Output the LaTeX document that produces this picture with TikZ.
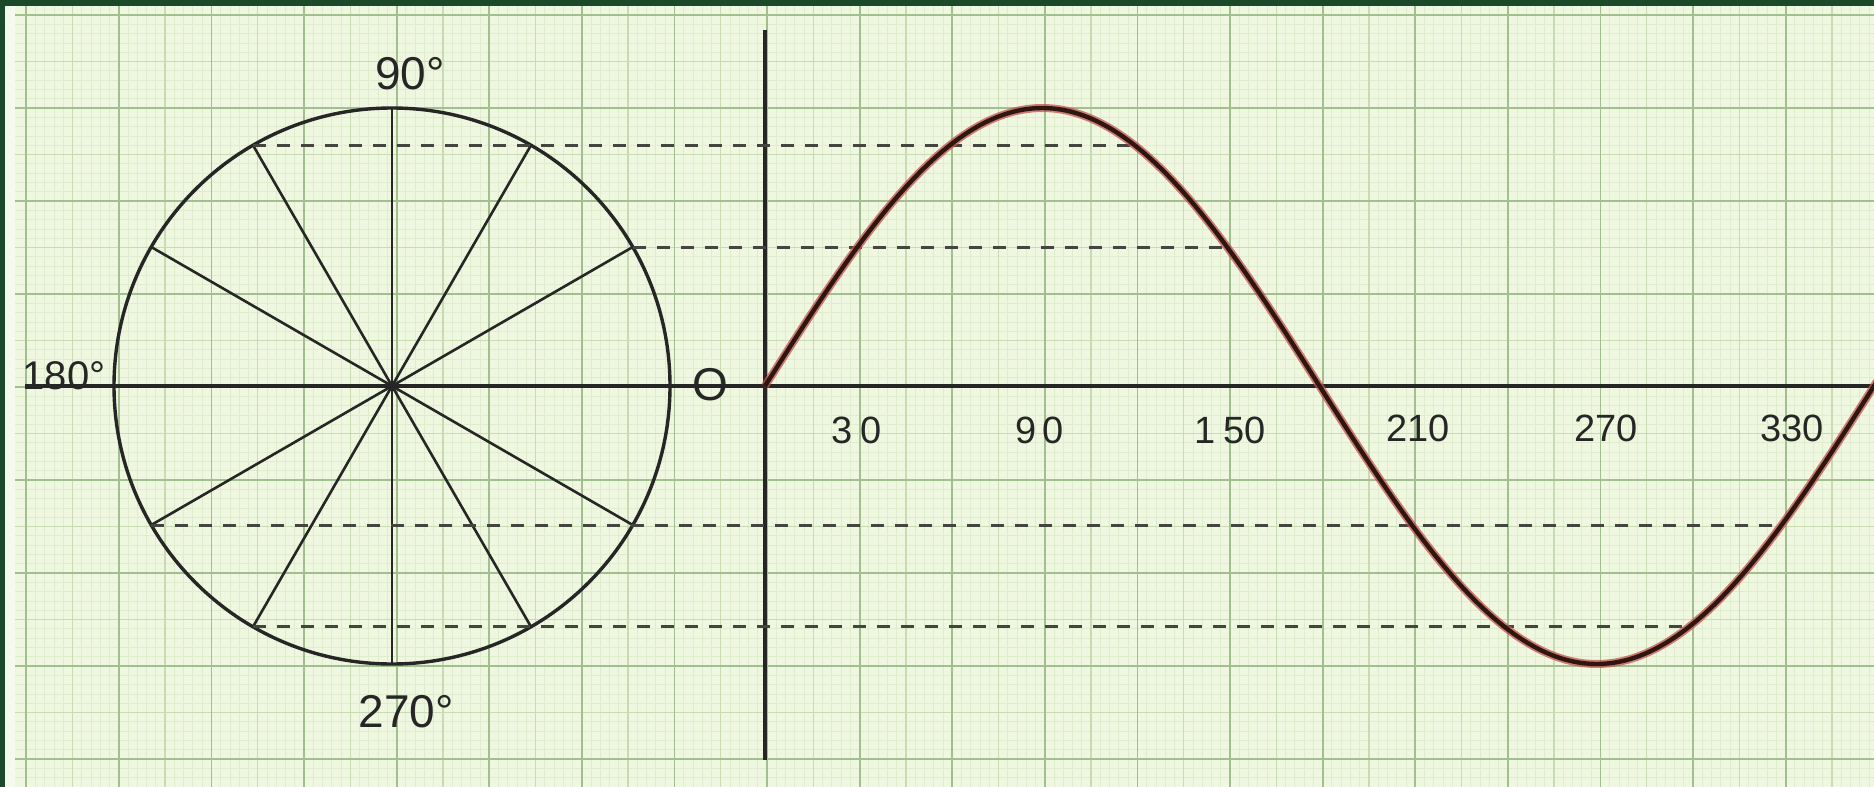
\documentclass[tikz,border=0pt]{standalone}
\usepackage{fontspec}
\usetikzlibrary{calc}
\newfontfamily\hand{Liberation Sans}
\definecolor{bordergreen}{HTML}{1B4A2A}
\definecolor{paperedge}{HTML}{F6F9EE}
\definecolor{paper}{HTML}{F0F7E0}
\definecolor{gridminor}{HTML}{E0ECCE}
\definecolor{gridmid}{HTML}{C8DBB2}
\definecolor{gridmajor}{HTML}{A2BF90}
\definecolor{ink}{HTML}{262626}
\definecolor{dashink}{HTML}{45453F}
\definecolor{curvecore}{HTML}{2E1712}
\definecolor{curvehalo}{HTML}{C4524C}
\begin{document}
\begin{tikzpicture}[x=1pt,y=-1pt,
  minorline/.style={gridminor, line width=0.8pt},
  midline/.style={gridmid, line width=1.3pt},
  majorline/.style={gridmajor, line width=1.8pt},
  inkline/.style={ink, line width=3.2pt},
  spoke/.style={ink, line width=2.6pt},
  guide/.style={dashink, line width=3pt, dash pattern=on 13pt off 11pt},
  halo/.style={curvehalo, line width=8pt, opacity=0.75},
  core/.style={curvecore, line width=4.4pt},
  lbl/.style={text=ink, inner sep=0pt, font=\hand\fontsize{46}{52}\selectfont},
  tick/.style={text=ink, inner sep=0pt, font=\hand\fontsize{38}{44}\selectfont}]
\useasboundingbox (0,0) rectangle (1874,787);
% photo border and paper
\fill[bordergreen] (-5,-5) rectangle (1880,795);
\fill[paperedge] (5,6) rectangle (1880,795);
\fill[paper] (15,6) rectangle (1880,795);
% graph paper
\foreach \i in {-80,...,120} \draw[minorline] ({767+\i*9.26},6) -- ({767+\i*9.26},795);
\foreach \j in {-40,...,44} \draw[minorline] (15,{387+\j*9.3}) -- (1880,{387+\j*9.3});
\foreach \i in {-16,...,24} \draw[midline] ({767+\i*46.3},6) -- ({767+\i*46.3},795);
\foreach \j in {-8,...,8} \draw[midline] (15,{387+\j*46.5}) -- (1880,{387+\j*46.5});
\foreach \i in {-8,...,11} \draw[majorline] ({767+\i*92.6},6) -- ({767+\i*92.6},795);
\foreach \j in {-4,...,4} \draw[majorline] (15,{387+\j*93}) -- (1880,{387+\j*93});
% circle
\coordinate (c) at (392,386);
\foreach \a in {0,30,...,330} \coordinate (p\a) at ($(c)+({278*cos(\a)},{-278*sin(\a)})$);
\draw[inkline, line width=3.4pt] (c) circle[radius=278];
\foreach \a in {30,60,120,150,210,240,300,330} \draw[spoke] (c) -- (p\a);
\draw[spoke] (p90) -- (p270);
% axes
\coordinate (axL) at (25,386);
\coordinate (axR) at (1880,386);
\coordinate (o) at (765,386);
\coordinate (vtop) at (765,30);
\coordinate (vbot) at (765,760);
\draw[inkline, line width=3.4pt] (axL) -- (axR);
\draw[inkline, line width=3.4pt] (vtop) -- (vbot);
% sine points
\foreach \a in {120,150,300,330} \coordinate (s\a) at ({765+3.0806*\a},{386-278*sin(\a)});
% projection guides
\draw[guide] (p120) -- (s120);
\draw[guide] (p30) -- (s150);
\draw[guide] (p210) -- (s330);
\draw[guide] (p240) -- (s300);
% sine curve
\draw[halo] plot[domain=0:362, samples=121, smooth] ({765+3.0806*\x},{386-278*sin(\x)});
\draw[core] plot[domain=0:362, samples=121, smooth] ({765+3.0806*\x},{386-278*sin(\x)});
% labels
\node[lbl] (l90) at (410,74) {90°};
\node[lbl, font=\hand\fontsize{40}{46}\selectfont] (l180) at (64,376) {180°};
\node[lbl] (l270) at (406,712) {270°};
\node[lbl] (lO) at (710,385) {O};
\node[tick] (t30) at (857,430) {3\kern8pt0};
\node[tick] (t90) at (1040,430) {9\kern6pt0};
\node[tick] (t150) at (1230,430) {1\kern8pt50};
\node[tick] (t210) at (1418,428) {210};
\node[tick] (t270) at (1606,428) {270};
\node[tick] (t330) at (1792,428) {330};
\end{tikzpicture}
\end{document}
